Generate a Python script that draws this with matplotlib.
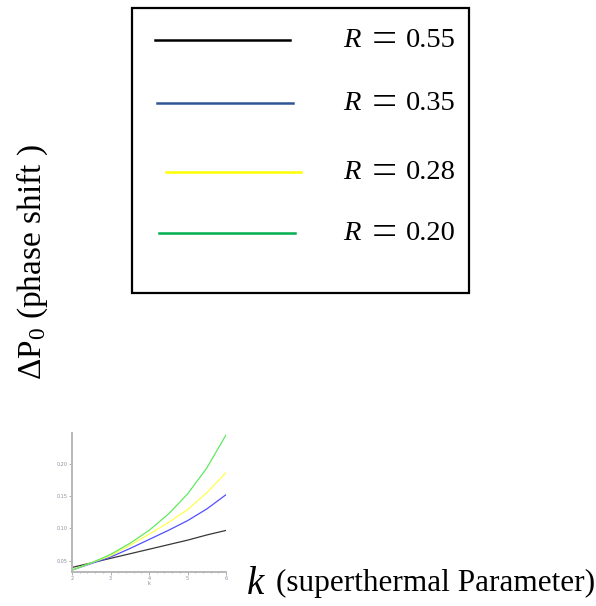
import matplotlib
matplotlib.use("Agg")
import matplotlib.pyplot as plt
from matplotlib.lines import Line2D
from matplotlib.patches import Rectangle

plt.rcParams['mathtext.fontset'] = 'custom'
plt.rcParams['mathtext.rm'] = 'Liberation Serif'
plt.rcParams['mathtext.it'] = 'Liberation Serif:italic'

k_values = [2.0, 2.5, 3.0, 3.5, 4.0, 4.5, 5.0, 5.5, 6.0]
dp_R055 = [0.040, 0.047, 0.054, 0.061, 0.068, 0.075, 0.082, 0.090, 0.097]
dp_R035 = [0.036, 0.046, 0.056, 0.069, 0.083, 0.097, 0.112, 0.130, 0.152]
dp_R028 = [0.036, 0.047, 0.058, 0.074, 0.091, 0.109, 0.129, 0.155, 0.186]
dp_R020 = [0.036, 0.047, 0.060, 0.077, 0.097, 0.122, 0.153, 0.193, 0.244]
legend_values = ["0.55", "0.35", "0.28", "0.20"]
x_ticks = [2, 3, 4, 5, 6]
y_ticks = [0.05, 0.10, 0.15, 0.20]

W, H = 596, 606
fig = plt.figure(figsize=(W / 100, H / 100), dpi=100)

ax = fig.add_axes([72 / W, (H - 572) / H, 154 / W, 139 / H])
plot_colors = ["#383838", "#5050ff", "#ffff50", "#60ea60"]
for ys, c in zip([dp_R055, dp_R035, dp_R028, dp_R020], plot_colors):
    ax.plot(k_values, ys, color=c, lw=0.9, solid_joinstyle="round")
ax.set_xlim(2, 6)
ax.set_ylim(0.033, 0.247)
ax.set_xticks(x_ticks)
ax.set_yticks(y_ticks)
ax.set_xticklabels([str(t) for t in x_ticks])
ax.set_yticklabels(["%.2f" % t for t in y_ticks])
ax.minorticks_on()
for s in ["top", "right"]:
    ax.spines[s].set_visible(False)
for s in ["left", "bottom"]:
    ax.spines[s].set_color("#b8b8b8")
    ax.spines[s].set_linewidth(1.4)
ax.tick_params(which="both", colors="#8890a0", labelsize=3.5, length=2, width=0.5, pad=1)
ax.tick_params(which="minor", length=1)
ax.set_xlabel("k", fontsize=3.5, color="#808080", labelpad=0)

# legend box
fig.patches.append(Rectangle((132 / W, 1 - 293 / H), (469 - 132) / W, (293 - 8) / H,
                             transform=fig.transFigure, fill=False, edgecolor="black", lw=1.6))
leg_colors = ["#000000", "#2f5597", "#ffff00", "#00b050"]
leg_y = [40, 103, 172, 233]
leg_x = [(155, 290), (157, 293), (166, 301), (159, 295)]
for val, c, y, (x0, x1) in zip(legend_values, leg_colors, leg_y, leg_x):
    fig.lines.append(Line2D([x0 / W, x1 / W], [1 - y / H, 1 - y / H], transform=fig.transFigure,
                            color=c, lw=1.8))
    yb = 1 - (y + 7) / H
    fig.text(343 / W, yb, "R", fontsize=20.5, va="baseline", ha="left",
             family="Liberation Serif", style="italic")
    fig.text(384.5 / W, 1 - (y + 12) / H, "=", fontsize=32, va="baseline", ha="center",
             family="Liberation Serif")
    fig.text(406 / W, yb, val, fontsize=20.5, va="baseline", ha="left",
             family="Liberation Serif")

fig.text(32 / W, 1 - 262 / H, "$\\Delta\\mathrm{P}_0$ (phase shift )", rotation=90,
         fontsize=24, va="center", ha="center", family="Liberation Serif")
fig.text(247 / W, 1 - 594 / H, "k", fontsize=28, va="baseline", ha="left",
         family="Liberation Serif", style="italic")
fig.text(595 / W, 1 - 591 / H, "(superthermal Parameter)", fontsize=22.5, va="baseline",
         ha="right", family="Liberation Serif")

fig.savefig("out.png", dpi=100)
